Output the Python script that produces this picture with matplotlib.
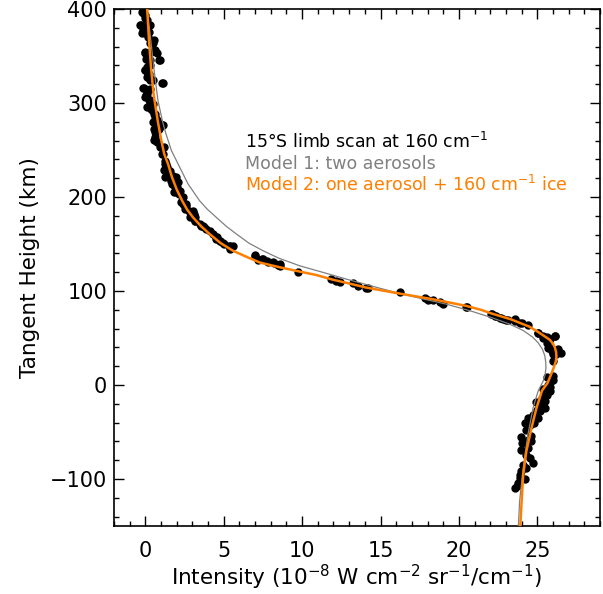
import matplotlib
matplotlib.use("Agg")
import matplotlib.pyplot as plt
from matplotlib.ticker import MultipleLocator

# observed limb-scan points (intensity, tangent height)
obs_x = [-0.21, 0.0, 0.105, -0.32, -0.11, 0.32, -0.21, 0.21, 0.53, 0.42, 0.0, 0.1, 0.64, 0.74,
         0.85, 0.32, 0.1, 0.0, 0.21, 0.1, 0.32, 1.06, -0.11, 0.32, 0.1, 0.0, 0.21, 0.32, 0.1,
         0.42, 0.53, 0.64, 0.74, 1.06, 0.53, 0.85, 0.64, 0.53, 0.74, 1.17, 1.06, 1.27, 1.38,
         1.17, 1.49, 1.27, 1.59, 1.81, 1.70, 2.02, 1.81, 2.13, 2.34, 2.45, 2.55, 2.76, 3.08,
         2.98, 3.19, 3.51, 3.72, 4.57, 4.79, 5.0, 5.32, 7.02, 7.45, 7.76, 8.19, 8.62,
         2.4, 2.61, 3.04, 3.15, 3.57, 4.1, 4.53, 4.74, 4.95, 5.38, 5.59, 5.38, 6.98, 7.19,
         7.51, 7.83, 8.15, 8.47, 8.57, 9.74, 11.87, 12.19, 12.4, 13.25, 13.57, 14.1, 14.21,
         16.23, 17.83, 18.04, 18.36, 18.79, 19.0, 20.49, 22.08, 22.3, 22.62, 22.83, 23.15,
         23.57, 24.0, 24.42, 25.06, 25.38, 25.59, 25.81, 26.12, 25.7, 25.91, 26.02, 26.34,
         20.48, 22.07, 22.39, 22.71, 23.03, 23.56, 23.88, 25.05, 25.37, 25.69, 26.12, 25.59,
         25.8, 26.01, 26.22, 26.54, 26.01, 25.9, 26.01, 25.69, 25.37, 25.8, 25.59, 25.27,
         25.48, 25.16, 24.95, 24.73, 24.41, 25.05, 24.52, 24.31, 23.99, 24.63, 24.41, 23.99,
         24.31, 24.52, 24.73, 24.1, 23.99, 23.88, 23.78, 23.56,
         -0.15, -0.04, -0.26, -0.15, 0.06, -0.04, 0.17, 0.28, 0.49, 0.38, -0.04, 0.06, 0.17,
         0.91, 0.28, -0.04, 0.17, 0.28, 0.49, 1.13, -0.15, 0.17, 0.06, 0.28, 0.49, 0.38, 0.6,
         0.7, 0.91,
         0.49, 0.7, 1.13, 0.59, 0.59, 0.91, 1.13, 1.23, 1.34, 1.23, 1.55, 1.44, 1.76, 1.98,
         1.66, 2.08, 1.87, 2.19, 1.98, 2.4, 2.3, 2.61, 2.51, 2.93, 2.83, 3.15, 3.68, 3.89,
         4.32, 4.53,
         24.2, 24.6, 24.0, 24.3, 23.9, 24.2, 23.7, 24.4, 25.2, 24.9, 25.5, 25.8, 25.6, 26.0,
         25.4, 24.8]
obs_y = [397, 393.6, 388.3, 382.9, 381.1, 382.9, 374, 375.8, 366.9, 363.4, 354.5, 352.7, 356.2,
         352.7, 345.6, 345.6, 338.4, 334.9, 331.3, 327.8, 324.2, 321.4, 316.4, 315.3, 310,
         306.4, 302.9, 299.3, 295.8, 292.2, 288.6, 285.1, 281.5, 276.2, 272.6, 272.6, 263.7,
         260.2, 258.4, 253, 246, 235.3, 231.7, 228.2, 224.6, 221.1, 221.1, 217.5, 214, 210.4,
         205.1, 203.3, 196.2, 192.6, 190.8, 185.5, 181.9, 178.4, 174.8, 171.3, 167.7, 157,
         153.5, 149.9, 148.1, 137.5, 133.9, 132.1, 130.3, 128.6,
         192.6, 190.9, 185.5, 178.4, 169.5, 163.5, 155.3, 153.5, 150.7, 148.2, 148.2, 144.6,
         138.6, 132.9, 133.9, 130.4, 130.4, 127.9, 126.8, 119.7, 112.6, 110.8, 110.1, 108.7,
         105.5, 103.7, 103, 99.1, 92.3, 90.2, 90.2, 88.8, 86.6, 83.1, 76, 73.5, 71.7, 70.6,
         68.8, 68.1, 66.4, 63.5, 55.7, 52.1, 51.1, 48.6, 52.1, 39.7, 36.1, 32.6, 37.9,
         83, 75.9, 73.4, 71.6, 68.8, 69.8, 66.3, 55.6, 50.3, 50.3, 52, 44.9, 39.6, 36, 32.5,
         34.3, 25.4, 4, 5.8, 0.5, -3.8, -6.7, -10.2, -13.8, -17.3, -20.9, -26.2, -31.6, -35.1,
         -35.1, -42.2, -47.6, -55.7, -54.7, -67.1, -68.9, -74.2, -77.8, -83.1, -84.9, -92,
         -99.1, -104.5, -109.8,
         395.4, 390, 382.9, 377.6, 381.1, 374, 370.5, 363.4, 363.4, 354.5, 352.7, 347.3,
         345.6, 345.6, 340.2, 334.9, 329.6, 326, 324.2, 321.4, 316.4, 313.5, 308.2, 302.9,
         299.3, 294, 288.6, 283.3, 278,
         279.7, 277.9, 276.2, 269, 260.2, 253, 245.9, 238.8, 235.3, 229.9, 228.1, 224.6,
         222.8, 221, 217.5, 215.7, 210.4, 206.8, 205, 199.7, 194.3, 192.6, 187.2, 183.7,
         178.3, 174.8, 169.4, 165.9, 160.5, 157,
         -40, -60, -62, -88, -96, -100, -107, -58, -28, -18, -24, -2, 8, 10, -8, -40]

# Model 1: two aerosols
m1_y = [420, 400, 374, 340, 303, 280, 268, 249.5, 231.7, 214, 196, 187, 178.3, 169, 160.6,
        151, 142.8, 135, 126.8, 119, 112.6, 105, 98.3, 92, 86, 78, 71.6, 65, 58, 51, 45, 38,
        31, 24, 18, 11, 4, -6.6, -24.4, -52.9, -88.5, -124, -155]
m1_x = [0.0, 0.08, 0.3, 0.52, 0.8, 1.1, 1.3, 1.66, 2.19, 2.72, 3.46, 3.95, 4.53, 5.15, 5.81,
        6.6, 7.51, 8.5, 9.85, 11.5, 12.83, 14.5, 16.0, 17.6, 19.2, 20.9, 22.1, 23.2, 24.1,
        24.7, 25.05, 25.33, 25.48, 25.54, 25.55, 25.5, 25.37, 25.05, 24.73, 24.4, 24.1,
        23.87, 23.78]

# Model 2: one aerosol + 160 cm-1 ice
m2_y = [420, 400, 370, 340, 310, 280, 260, 246, 235, 221, 208, 196, 187, 178.3, 169, 160.6,
        151, 142.8, 136, 130.3, 125.5, 121.4, 117, 112, 108, 103.6, 97.2, 91.2, 84.1, 80, 76,
        70, 66, 62, 57, 52, 48, 44, 40, 35, 30, 25, 20, 14, 8, 2, -6, -24.4, -45.8, -70.7,
        -95.5, -124, -155]
m2_x = [0.05, 0.12, 0.22, 0.35, 0.52, 0.8, 1.02, 1.2, 1.45, 1.7, 2.0, 2.35, 2.65, 3.04, 3.55,
        4.1, 4.8, 5.59, 6.5, 7.3, 8.5, 9.64, 10.9, 11.97, 13.0, 14.1, 16.23, 18.35, 20.48,
        21.4, 22.1, 23.3, 23.9, 24.5, 25.0, 25.45, 25.8, 26.0, 26.12, 26.2, 26.22, 26.18,
        26.08, 25.95, 25.8, 25.65, 25.3, 24.95, 24.63, 24.3, 24.1, 24.0, 23.9]

title_txt = "15°S limb scan at 160 cm$^{-1}$"
m1_txt = "Model 1: two aerosols"
m2_txt = "Model 2: one aerosol + 160 cm$^{-1}$ ice"

ORANGE = '#FF7F00'
GRAY = '#808080'

plt.rcParams['font.family'] = ['DejaVu Sans']
plt.rcParams['mathtext.fontset'] = 'dejavusans'

fig = plt.figure(figsize=(6.03, 5.94), dpi=100)
ax = fig.add_axes([114/603, 1 - 526/594, (600 - 114)/603, (526 - 9)/594])

ax.plot(obs_x, obs_y, 'o', color='black', ms=5, mec='black', zorder=2)
ax.plot(m1_x, m1_y, color=GRAY, lw=0.9, zorder=3)
ax.plot(m2_x, m2_y, color=ORANGE, lw=1.8, zorder=4)

ax.set_xlim(-2, 29)
ax.set_ylim(-150, 400)
ax.xaxis.set_major_locator(MultipleLocator(5))
ax.xaxis.set_minor_locator(MultipleLocator(1))
ax.yaxis.set_major_locator(MultipleLocator(100))
ax.yaxis.set_minor_locator(MultipleLocator(20))
ax.tick_params(which='both', direction='in', top=True, right=True, width=1.0, labelsize=15)
ax.tick_params(which='major', length=7)
ax.tick_params(which='minor', length=3.5)
ax.tick_params(axis='x', which='major', pad=11)
ax.tick_params(axis='y', which='major', pad=5)
for s in ax.spines.values():
    s.set_linewidth(1.2)

ax.set_xlabel("Intensity (10$^{-8}$ W cm$^{-2}$ sr$^{-1}$/cm$^{-1}$)", fontsize=15.5, labelpad=1)
ax.set_ylabel("Tangent Height (km)", fontsize=15.5, labelpad=7)

ax.text(6.34, 258.4, title_txt, color='black', fontsize=12.5, va='center', ha='left')
ax.text(6.34, 235.4, m1_txt, color=GRAY, fontsize=12.5, va='center', ha='left')
ax.text(6.34, 213.0, m2_txt, color=ORANGE, fontsize=12.5, va='center', ha='left')

fig.savefig("out.png", dpi=100)
